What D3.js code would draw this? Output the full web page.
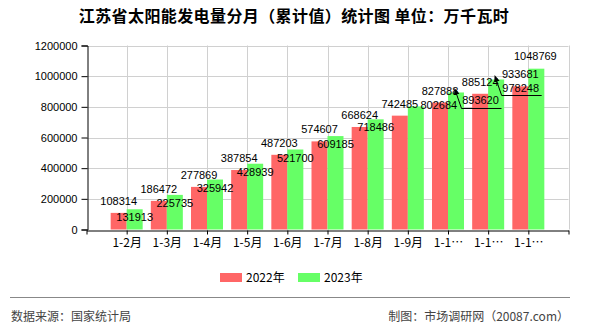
<!DOCTYPE html>
<html>
<head>
<meta charset="utf-8">
<script src="https://cdn.jsdelivr.net/npm/d3@7"></script>
<style>
  html, body { margin: 0; padding: 0; background: #fff; }
  svg { display: block; }
</style>
</head>
<body>
<svg id="chart" width="590" height="330"></svg>
<script>
// ---- data ----
const categories = ["1-2月","1-3月","1-4月","1-5月","1-6月","1-7月","1-8月","1-9月","1-10月","1-11月","1-12月"];
const series2022 = [108314,186472,277869,387854,487203,574607,668624,742485,827888,885124,933681];
const series2023 = [131913,225735,325942,428939,521700,609185,718486,802684,893620,978248,1048769];
const yTicks = [0,200000,400000,600000,800000,1000000,1200000];
const seriesNames = ["2022年","2023年"];
const titleText = "江苏省太阳能发电量分月（累计值）统计图 单位：万千瓦时";
const sourceText = "数据来源：国家统计局";
const creditText = "制图：市场调研网（20087.com）";

// ---- layout / style (not data) ----
const colors = ["#ff6666", "#66ff66"];
const barW = 16;
// label displacement for overlapping 2023 labels (dx, dy in px, leader line flag)
const greenLabelMove = {7: {dx: 23, dy: -9}, 8: {dx: 24.5, dy: 0, leader: true}, 9: {dx: 24.5, dy: 0, leader: true}, 10: {dx: -1, dy: -21}};

const svg = d3.select("#chart");
const fontNum = "'Liberation Sans', Arial, sans-serif";
const fontCJK = "'Noto Sans CJK SC', 'Liberation Sans', sans-serif";

const x = d3.scalePoint().domain(["__s", ...categories, "__e"]).range([86.5, 568.5]);
const y = d3.scaleLinear().domain([0, 1200000]).range([229.5, 45.5]);

// title
svg.append("text").attr("x", 294).attr("y", 22).attr("text-anchor", "middle")
  .style("font-family", fontCJK).style("font-size", "16px").style("font-weight", "bold")
  .style("letter-spacing", "0.4px").attr("fill", "#000").text(titleText);

// grid lines
const grid = svg.append("g");
grid.selectAll("line.h").data(yTicks.filter(d => d > 0)).join("line")
  .attr("x1", x.range()[0]).attr("x2", x.range()[1])
  .attr("y1", d => Math.round(y(d)) + 0.5).attr("y2", d => Math.round(y(d)) + 0.5)
  .attr("stroke", "#d0d0d0").attr("stroke-width", 1);
grid.selectAll("line.v").data(x.domain().slice(1)).join("line")
  .attr("x1", d => Math.round(x(d)) + 0.5).attr("x2", d => Math.round(x(d)) + 0.5)
  .attr("y1", y(1200000)).attr("y2", y(0))
  .attr("stroke", "#d0d0d0").attr("stroke-width", 1);

// bars
const bars = svg.append("g");
bars.selectAll("rect.a").data(series2022).join("rect")
  .attr("x", (d, i) => x(categories[i]) - barW).attr("width", barW)
  .attr("y", d => y(d)).attr("height", d => y(0) - y(d)).attr("fill", colors[0]);
bars.selectAll("rect.b").data(series2023).join("rect")
  .attr("x", (d, i) => x(categories[i])).attr("width", barW)
  .attr("y", d => y(d)).attr("height", d => y(0) - y(d)).attr("fill", colors[1]);

// y axis
const yAxis = d3.axisLeft(y).tickValues(yTicks).tickSize(6).tickPadding(4).tickFormat(d3.format("d"));
const gy = svg.append("g").attr("transform", `translate(${Math.round(x.range()[0]) + 0.5},0)`).call(yAxis);
gy.select(".domain").attr("stroke", "#000");
gy.selectAll(".tick line").attr("stroke", "#000");
gy.selectAll(".tick text").style("font-family", fontNum).style("font-size", "11px").attr("fill", "#000");

// x axis
const xAxis = d3.axisBottom(x).tickSize(4).tickSizeOuter(0).tickPadding(4)
  .tickFormat(d => d.startsWith("__") ? "" : (d.length > 4 ? d.slice(0, 3) + "…" : d));
const gx = svg.append("g").attr("transform", `translate(0,${Math.round(y(0)) + 0.5})`).call(xAxis);
gx.select(".domain").attr("stroke", "#000");
gx.selectAll(".tick line").attr("stroke", "#000");
gx.selectAll(".tick text").style("font-family", fontCJK).style("font-size", "12px").attr("fill", "#000");

// value labels
const labels = svg.append("g").style("font-family", fontNum).style("font-size", "11px").attr("fill", "#000");
labels.selectAll("text.a").data(series2022).join("text")
  .attr("text-anchor", "middle")
  .attr("x", (d, i) => x(categories[i]) - barW / 2)
  .attr("y", d => y(d) - 8).text(d => d);
labels.selectAll("text.b").data(series2023).join("text")
  .attr("text-anchor", "middle")
  .attr("x", (d, i) => x(categories[i]) + barW / 2 + (greenLabelMove[i] ? greenLabelMove[i].dx : 0))
  .attr("y", (d, i) => y(d) + 12 + (greenLabelMove[i] ? greenLabelMove[i].dy : 0)).text(d => d);

// leader lines for moved labels
svg.append("defs").append("marker").attr("id", "arr").attr("viewBox", "0 0 10 10")
  .attr("refX", 1).attr("refY", 5).attr("markerWidth", 7).attr("markerHeight", 7)
  .attr("orient", "auto-start-reverse")
  .append("path").attr("d", "M0,1 L10,5 L0,9 z").attr("fill", "#000");
series2023.forEach((d, i) => {
  const m = greenLabelMove[i];
  if (!m || !m.leader) return;
  const cx = x(categories[i]) + barW / 2;
  const lx = cx + m.dx;
  const base = y(d) + 12 + m.dy;
  svg.append("polyline")
    .attr("points", `${cx + 0.5},${y(d) + 1.5} ${lx - 19},${base + 4} ${lx + 21},${base + 4}`)
    .attr("fill", "none").attr("stroke", "#000").attr("stroke-width", 1)
    .attr("marker-start", "url(#arr)");
});

// legend
const legend = svg.append("g");
const legX = [220, 298];
seriesNames.forEach((n, i) => {
  legend.append("rect").attr("x", legX[i]).attr("y", 273).attr("width", 22).attr("height", 9).attr("fill", colors[i]);
  legend.append("text").attr("x", legX[i] + 26).attr("y", 281.5)
    .style("font-family", fontCJK).style("font-size", "12px").attr("fill", "#000").text(n);
});

// footer
svg.append("line").attr("x1", 10).attr("x2", 570).attr("y1", 297.5).attr("y2", 297.5).attr("stroke", "#888");
svg.append("text").attr("x", 11).attr("y", 321).style("font-family", fontCJK).style("font-size", "12px")
  .attr("fill", "#444").text(sourceText);
svg.append("text").attr("x", 569).attr("y", 321).attr("text-anchor", "end").style("font-family", fontCJK)
  .style("font-size", "12px").attr("fill", "#444").text(creditText);
</script>
</body>
</html>
